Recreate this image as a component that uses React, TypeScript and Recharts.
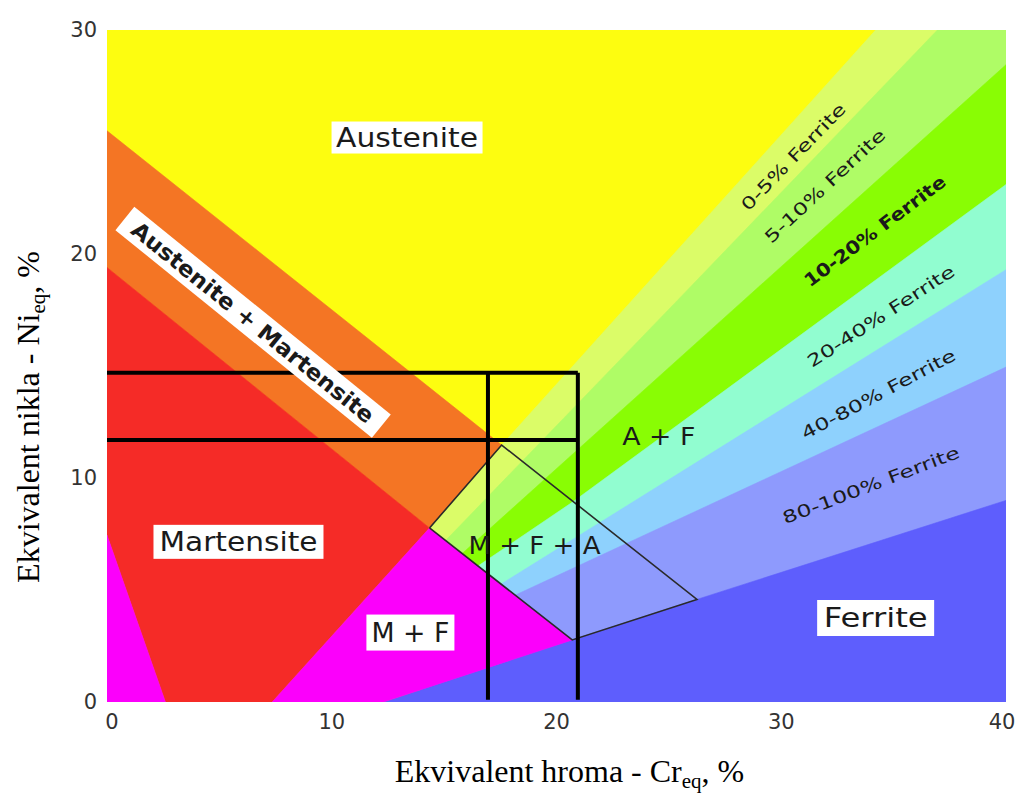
import { Scatter, ScatterChart, XAxis, YAxis } from "recharts";

type Pt = { cr: number; ni: number };

const X_TICKS = [0, 10, 20, 30, 40];
const Y_TICKS = [0, 10, 20, 30];

// phase fields, Cr_eq / Ni_eq corners
// bands are painted in order, each later one covers the lower part of the one before
const austenite: Pt[] = [
  { cr: 0, ni: 0 }, { cr: 0, ni: 30 }, { cr: 40, ni: 30 }, { cr: 40, ni: 0 },
];
const ferrite0to5: Pt[] = [
  { cr: 14, ni: 7.5 }, { cr: 17.56, ni: 11.47 }, { cr: 34.2, ni: 30 },
  { cr: 40, ni: 30 }, { cr: 40, ni: 0 }, { cr: 14, ni: 0 },
];
const ferrite5to10: Pt[] = [
  { cr: 14, ni: 6.1 }, { cr: 25.4, ni: 17.95 }, { cr: 36.95, ni: 30 },
  { cr: 40, ni: 30 }, { cr: 40, ni: 0 }, { cr: 14, ni: 0 },
];
const ferrite10to20: Pt[] = [
  { cr: 14, ni: 5.0 }, { cr: 28.35, ni: 17.95 }, { cr: 40, ni: 28.45 },
  { cr: 40, ni: 0 }, { cr: 14, ni: 0 },
];
const ferrite20to40: Pt[] = [
  { cr: 14, ni: 4.37 }, { cr: 16.7, ni: 6.2 }, { cr: 20.75, ni: 8.95 },
  { cr: 40, ni: 23.1 }, { cr: 40, ni: 0 }, { cr: 14, ni: 0 },
];
const ferrite40to80: Pt[] = [
  { cr: 14, ni: 3.05 }, { cr: 17.35, ni: 5.15 }, { cr: 40, ni: 19.3 },
  { cr: 40, ni: 0 }, { cr: 14, ni: 0 },
];
const ferrite80to100: Pt[] = [
  { cr: 14, ni: 2.83 }, { cr: 19.3, ni: 5.3 }, { cr: 40, ni: 14.95 },
  { cr: 40, ni: 0 }, { cr: 14, ni: 0 },
];
const ferrite: Pt[] = [
  { cr: 12.3, ni: 0 }, { cr: 20.7, ni: 2.77 }, { cr: 26.25, ni: 4.58 },
  { cr: 40, ni: 9.0 }, { cr: 40, ni: 0 },
];
const austMart: Pt[] = [
  { cr: 0, ni: 25.5 }, { cr: 17.56, ni: 11.47 }, { cr: 14.35, ni: 7.77 }, { cr: 0, ni: 19.4 },
];
const martensite: Pt[] = [
  { cr: 0, ni: 19.4 }, { cr: 14.35, ni: 7.77 }, { cr: 7.35, ni: 0 },
  { cr: 2.6, ni: 0 }, { cr: 0, ni: 7.45 },
];
const martFerLeft: Pt[] = [{ cr: 0, ni: 7.45 }, { cr: 2.6, ni: 0 }, { cr: 0, ni: 0 }];
const martFerRight: Pt[] = [
  { cr: 7.35, ni: 0 }, { cr: 14.35, ni: 7.77 }, { cr: 20.7, ni: 2.77 }, { cr: 12.3, ni: 0 },
];
const mfaOutline: Pt[] = [
  { cr: 14.35, ni: 7.77 }, { cr: 17.56, ni: 11.47 }, { cr: 26.25, ni: 4.58 },
  { cr: 20.7, ni: 2.77 }, { cr: 14.35, ni: 7.77 },
];

// the composition window marked with thick lines
const niHigh: Pt[] = [{ cr: -0.12, ni: 14.7 }, { cr: 20.95, ni: 14.7 }];
const niLow: Pt[] = [{ cr: -0.12, ni: 11.7 }, { cr: 20.95, ni: 11.7 }];
const crLow: Pt[] = [{ cr: 16.95, ni: 14.7 }, { cr: 16.95, ni: 0.1 }];
const crHigh: Pt[] = [{ cr: 20.95, ni: 14.7 }, { cr: 20.95, ni: 0.1 }];

const FIELDS: [Pt[], string][] = [
  [austenite, "#fdfd10"],
  [ferrite0to5, "#dbfc68"],
  [ferrite5to10, "#affc66"],
  [ferrite10to20, "#89fd04"],
  [ferrite20to40, "#91fdd0"],
  [ferrite40to80, "#8ed1fd"],
  [ferrite80to100, "#8e9afd"],
  [ferrite, "#5e5efd"],
  [austMart, "#f47524"],
  [martensite, "#f52b27"],
  [martFerLeft, "#fb00fb"],
  [martFerRight, "#fb00fb"],
];

const labels = [
  { text: "Austenite", cr: 13.35, ni: 25.2 },
  { text: "Martensite", cr: 5.85, ni: 7.15 },
  { text: "M + F", cr: 13.5, ni: 3.1 },
  { text: "Ferrite", cr: 34.2, ni: 3.75 },
  { text: "A + F", cr: 24.55, ni: 11.88 },
  { text: "M + F + A", cr: 19.02, ni: 7.0 },
  { text: "Austenite + Martensite", cr: 6.5, ni: 16.95 },
  { text: "0-5% Ferrite", cr: 30.53, ni: 24.34 },
  { text: "5-10% Ferrite", cr: 31.94, ni: 23.04 },
  { text: "10-20% Ferrite", cr: 34.16, ni: 21.03 },
  { text: "20-40% Ferrite", cr: 34.43, ni: 17.23 },
  { text: "40-80% Ferrite", cr: 34.32, ni: 13.75 },
  { text: "80-100% Ferrite", cr: 33.99, ni: 9.69 },
];

type LabelStyle = { size: number; len: number; angle?: number; box?: [number, number]; bold?: boolean };
const LABEL_STYLE: Record<string, LabelStyle> = {
  Austenite: { size: 26, len: 142, box: [151, 32] },
  Martensite: { size: 26, len: 158, box: [170, 34] },
  "M + F": { size: 26, len: 78, box: [88, 36] },
  Ferrite: { size: 26, len: 104, box: [117, 36] },
  "A + F": { size: 24, len: 73 },
  "M + F + A": { size: 24, len: 132 },
  "Austenite + Martensite": { size: 22, len: 305, angle: 39, box: [330, 30], bold: true },
  "0-5% Ferrite": { size: 17, len: 142, angle: -46 },
  "5-10% Ferrite": { size: 17, len: 158, angle: -43 },
  "10-20% Ferrite": { size: 18, len: 172, angle: -37, bold: true },
  "20-40% Ferrite": { size: 17, len: 172, angle: -33 },
  "40-80% Ferrite": { size: 17, len: 172, angle: -28 },
  "80-100% Ferrite": { size: 17, len: 188, angle: -21 },
};

const FONT = "DejaVu Sans";
const SERIF = "Liberation Serif";

const toPath = (pts: { x: number; y: number }[], close: boolean) =>
  pts.map((p, i) => `${i ? "L" : "M"}${p.x},${p.y}`).join(" ") + (close ? " Z" : "");

const noDot = () => <g />;

function LabelMark(props: any) {
  const { cx, cy, payload } = props;
  const s = LABEL_STYLE[payload.text];
  const a = s.angle ?? 0;
  return (
    <g transform={`rotate(${a} ${cx} ${cy})`}>
      {s.box && (
        <rect
          x={cx - s.box[0] / 2}
          y={cy - s.box[1] / 2}
          width={s.box[0]}
          height={s.box[1]}
          fill="#fff"
        />
      )}
      <text
        x={cx}
        y={cy}
        dy="0.36em"
        textAnchor="middle"
        fontFamily={FONT}
        fontSize={s.size}
        fontWeight={s.bold ? 700 : 400}
        fill="#1a1a1a"
        textLength={s.len}
        lengthAdjust="spacingAndGlyphs"
      >
        {payload.text}
      </text>
    </g>
  );
}

function XTick(props: any) {
  const { x, y, payload } = props;
  // hand-set nudges so the end labels sit inside the frame like the original
  const nudge = payload.value === 0 ? 5 : payload.value === 40 ? -4 : 0;
  return (
    <text x={x + nudge} y={y + 25} textAnchor="middle" fontFamily={FONT} fontSize={21} fill="#333">
      {payload.value}
    </text>
  );
}

function YTick(props: any) {
  const { x, y, payload } = props;
  return (
    <text x={x - 8} y={y - 1} dy="0.36em" textAnchor="end" fontFamily={FONT} fontSize={21} fill="#333">
      {payload.value}
    </text>
  );
}

function XTitle(props: any) {
  const vb = props.viewBox ?? { x: 107, y: 702, width: 894, height: 40 };
  const x = vb.x + vb.width / 2 + 13;
  const y = vb.y + 80;
  return (
    <text x={x} y={y} textAnchor="middle" fontFamily={SERIF} fontSize={32} fill="#000">
      Ekvivalent hroma - Cr
      <tspan fontSize={21} dy={6}>eq</tspan>
      <tspan dy={-6}>, %</tspan>
    </text>
  );
}

function YTitle(props: any) {
  const vb = props.viewBox ?? { x: 47, y: 30, width: 60, height: 672 };
  const x = vb.x - 8;
  const y = vb.y + vb.height / 2 + 51;
  return (
    <text
      x={x}
      y={y}
      transform={`rotate(-90 ${x} ${y})`}
      textAnchor="middle"
      fontFamily={SERIF}
      fontSize={32}
      fill="#000"
    >
      Ekvivalent nikla - Ni
      <tspan fontSize={21} dy={6}>eq</tspan>
      <tspan dy={-6}>, %</tspan>
    </text>
  );
}

export default function App() {
  return (
    <div style={{ position: "absolute", left: 0, top: 0, background: "#fff" }}>
      <ScatterChart width={1018} height={794} margin={{ top: 30, right: 12, bottom: 52, left: 47 }}>
        <XAxis
          type="number"
          dataKey="cr"
          domain={[0, 40]}
          ticks={X_TICKS}
          allowDataOverflow
          axisLine={false}
          tickLine={false}
          tickSize={0}
          height={40}
          tick={XTick}
          label={XTitle}
        />
        <YAxis
          type="number"
          dataKey="ni"
          domain={[0, 30]}
          ticks={Y_TICKS}
          allowDataOverflow
          axisLine={false}
          tickLine={false}
          tickSize={0}
          width={60}
          tick={YTick}
          label={YTitle}
        />

        {FIELDS.map(([pts, color], i) => (
          <Scatter
            key={`field-${i}`}
            data={pts}
            isAnimationActive={false}
            shape={noDot}
            line={(p: any) => (
              <path d={toPath(p.points, true)} fill={color} stroke={color} strokeWidth={0.6} />
            )}
          />
        ))}

        <Scatter
          data={mfaOutline}
          isAnimationActive={false}
          shape={noDot}
          line={(p: any) => (
            <path d={toPath(p.points, false)} fill="none" stroke="#2a2a2a" strokeWidth={1.6} />
          )}
        />

        {[niHigh, niLow, crLow, crHigh].map((pts, i) => (
          <Scatter
            key={`window-${i}`}
            data={pts}
            isAnimationActive={false}
            shape={noDot}
            line={(p: any) => (
              <path d={toPath(p.points, false)} fill="none" stroke="#000" strokeWidth={4} />
            )}
          />
        ))}

        <Scatter data={labels} isAnimationActive={false} shape={(p: any) => <LabelMark {...p} />} />
      </ScatterChart>
    </div>
  );
}
